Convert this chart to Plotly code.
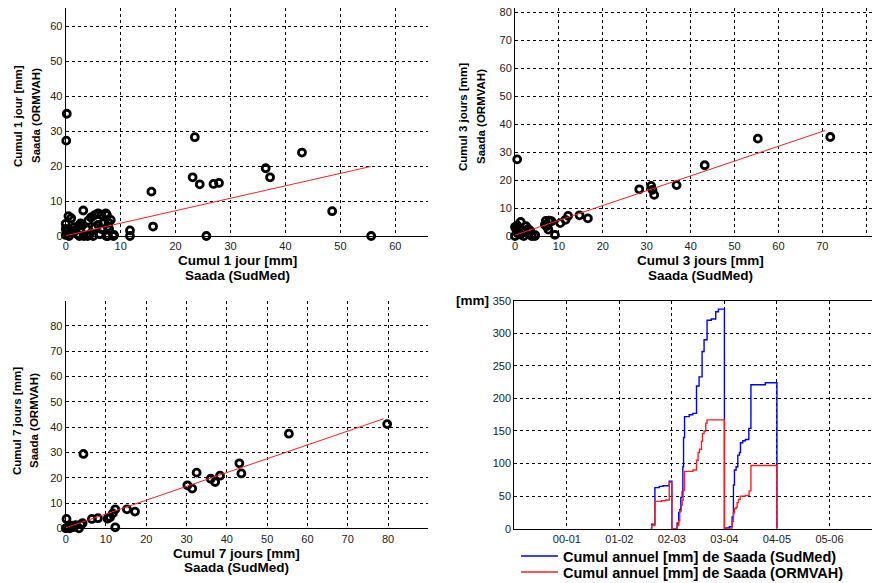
import plotly.graph_objects as go

# ---------------- data ----------------
# Panel 1 : cumul 1 jour  (x = SudMed, y = ORMVAH)
j1_sudmed = [0.2, 0.1, 23.5, 23.1, 24.4, 26.9, 27.9, 15.6, 15.9, 25.6, 36.4, 37.2, 43.0, 48.5, 55.6,
             11.7, 11.7, 8.7, 8.2, 7.7, 0.5, 1.0, 3.2, 2.7, 4.6, 5.9, 7.3, 6.8, 7.7, 0.0, 0.0, 0.0,
             0.6, 1.5, 2.1, 3.3, 3.8, 4.4, 5.0, 5.3, 6.2, 7.4, 7.9, 8.8, 4.0, 2.5, 1.0, 0.2, 1.6,
             3.0, 6.5, 2.3, 4.1, 5.3, 6.5, 7.5, 5.9, 7.8]
j1_ormvah = [35.0, 27.3, 28.3, 16.8, 14.8, 14.9, 15.2, 12.7, 2.7, 0.0, 19.4, 16.8, 23.9, 7.1, 0.0,
             1.6, 0.0, 0.0, 4.6, 0.0, 5.7, 5.1, 7.3, 3.6, 5.3, 6.5, 6.5, 3.6, 2.7, 3.5, 2.0, 0.3,
             0.0, 2.5, 0.5, 0.0, 2.0, 0.5, 0.0, 2.5, 0.5, 0.0, 2.0, 0.3, 0.0, 0.0, 1.0, 1.2, 1.5,
             3.0, 2.0, 2.9, 4.4, 6.0, 6.0, 6.0, 3.2, 3.8]
j1_fit_x = [0.0, 55.5]
j1_fit_y = [0.1, 19.9]

# Panel 2 : cumul 3 jours
j3_sudmed = [0.5, 71.8, 55.3, 43.2, 36.8, 31.0, 31.3, 31.7, 28.3, 16.6, 14.7, 12.1, 11.5, 10.3, 9.1,
             7.0, 7.8, 8.3, 7.2, 7.6, 0.0, 0.3, 0.6, 1.3, 2.5, 3.0, 3.5, 4.5, 3.8, 0.0, 1.2, 2.2,
             4.6, 6.8, 0.5, 2.0]
j3_ormvah = [27.4, 35.4, 34.8, 25.3, 18.2, 17.9, 16.5, 14.7, 16.7, 6.3, 7.4, 7.2, 5.8, 4.6, 0.4,
             5.4, 5.5, 5.3, 3.5, 2.3, 3.2, 2.3, 1.0, 5.0, 3.5, 2.5, 1.8, 0.0, 0.0, 0.0, 0.5, 1.5,
             0.3, 4.0, 3.8, 0.0]
j3_fit_x = [0.0, 70.6]
j3_fit_y = [0.3, 37.7]

# Panel 3 : cumul 7 jours
j7_sudmed = [79.8, 55.4, 4.4, 43.1, 43.6, 32.5, 38.3, 36.0, 37.1, 30.2, 31.4, 15.2, 17.2, 12.3, 11.7,
             10.4, 11.0, 8.0, 6.5, 12.3, 0.2, 0.0, 1.0, 2.0, 3.3, 3.8, 4.2, 1.5, 2.5, 0.5]
j7_ormvah = [41.2, 37.4, 29.4, 25.7, 21.7, 22.0, 20.8, 19.6, 18.3, 17.0, 15.7, 7.5, 6.6, 7.5, 5.9,
             3.8, 4.4, 4.0, 3.7, 0.4, 3.7, 0.0, 0.0, 0.5, 0.0, 1.5, 2.0, 1.0, 1.2, 0.3]
j7_fit_x = [0.0, 78.9]
j7_fit_y = [0.2, 43.3]

# Panel 4 : cumul annuel (decimal hydrological year, 2000 = "00-01")
sud_t = [2001.60, 2001.615, 2001.677, 2001.76, 2001.83, 2001.95, 2002.0, 2002.10, 2002.13, 2002.15,
         2002.17, 2002.196, 2002.209, 2002.222, 2002.241, 2002.33, 2002.40, 2002.469, 2002.518,
         2002.575, 2002.613, 2002.670, 2002.75, 2002.835, 2002.886, 2003.0, 2003.03, 2003.096,
         2003.147, 2003.172, 2003.191, 2003.223, 2003.255, 2003.287, 2003.306, 2003.350, 2003.40,
         2003.465, 2003.505, 2003.778, 2004.0]
sud_mm = [0, 7, 63, 65, 66, 73, 0, 9, 25, 29, 48, 57, 95, 140, 172, 175, 177, 219, 233, 272, 290,
          320, 322, 333, 337, 0, 1, 3, 18, 67, 90, 95, 113, 117, 132, 135, 137, 154, 221, 224, 0]
orm_t = [2001.60, 2001.615, 2001.677, 2001.80, 2001.88, 2001.95, 2002.0, 2002.10, 2002.13, 2002.15,
         2002.18, 2002.196, 2002.215, 2002.241, 2002.40, 2002.469, 2002.499, 2002.525, 2002.563,
         2002.582, 2002.613, 2002.645, 2002.670, 2003.0, 2003.147, 2003.172, 2003.191, 2003.223,
         2003.242, 2003.268, 2003.300, 2003.40, 2003.47, 2003.505, 2004.0]
orm_mm = [0, 5, 42, 43, 44, 71, 0, 5, 12, 27, 36, 44, 59, 88, 90, 105, 117, 122, 134, 146, 150, 162,
          167, 0, 11, 24, 31, 33, 40, 45, 50, 51, 58, 97, 0]

year_ticks = [2000, 2001, 2002, 2003, 2004, 2005]
year_labels = ["00-01", "01-02", "02-03", "03-04", "04-05", "05-06"]

# ---------------- figure ----------------
W, H = 872, 583
def px(x):
    return x / W
def py(y):
    return 1 - y / H

fig = go.Figure()

mk = dict(symbol="circle-open", size=7, color="black", line=dict(width=2.8, color="black"))
for i, (xs, ys, fx, fy) in enumerate([(j1_sudmed, j1_ormvah, j1_fit_x, j1_fit_y),
                                      (j3_sudmed, j3_ormvah, j3_fit_x, j3_fit_y),
                                      (j7_sudmed, j7_ormvah, j7_fit_x, j7_fit_y)]):
    ax = "" if i == 0 else str(i + 1)
    fig.add_trace(go.Scatter(x=xs, y=ys, mode="markers", marker=mk, showlegend=False,
                             xaxis="x" + ax, yaxis="y" + ax, cliponaxis=False))
    fig.add_trace(go.Scatter(x=fx, y=fy, mode="lines", line=dict(color="#ff2020", width=1),
                             showlegend=False, xaxis="x" + ax, yaxis="y" + ax))

fig.add_trace(go.Scatter(x=sud_t, y=sud_mm, mode="lines", line=dict(color="#0000ff", width=1.4, shape="hv"),
                         name="Cumul annuel [mm] de Saada (SudMed)", xaxis="x4", yaxis="y4",
                         legend="legend"))
fig.add_trace(go.Scatter(x=orm_t, y=orm_mm, mode="lines", line=dict(color="#ff2020", width=1.4, shape="hv"),
                         name="Cumul annuel [mm] de Saada (ORMVAH)", xaxis="x4", yaxis="y4",
                         legend="legend2"))

tickfont = dict(family="Liberation Sans, Arial", size=11, color="#222")
common = dict(showline=True, linecolor="black", linewidth=1, showgrid=True, gridcolor="black",
              gridwidth=1, griddash="3px,3px", zeroline=False, ticks="", tickfont=tickfont,
              fixedrange=True, automargin=False)

legfont = dict(family="Liberation Sans, Arial", size=14.5, color="black", weight="bold")

fig.update_layout(
    width=W, height=H, margin=dict(l=0, r=0, t=0, b=0, autoexpand=False),
    paper_bgcolor="white", plot_bgcolor="white",
    xaxis=dict(domain=[px(65.7), px(428.3)], range=[0, 66], tickvals=[0, 10, 20, 30, 40, 50, 60],
               anchor="y", **common),
    yaxis=dict(domain=[py(236), py(8.3)], range=[0, 65.2], tickvals=[0, 10, 20, 30, 40, 50, 60],
               anchor="x", **common),
    xaxis2=dict(domain=[px(515), 1.0], range=[0, 81.3], tickvals=[0, 10, 20, 30, 40, 50, 60, 70, 80],
                anchor="y2", **common),
    yaxis2=dict(domain=[py(236), py(8.3)], range=[0, 81.4], tickvals=[0, 10, 20, 30, 40, 50, 60, 70, 80],
                anchor="x2", **common),
    xaxis3=dict(domain=[px(65.7), px(428.3)], range=[0, 90], tickvals=[0, 10, 20, 30, 40, 50, 60, 70, 80],
                anchor="y3", **common),
    yaxis3=dict(domain=[py(528.3), py(300.7)], range=[0, 90], tickvals=[0, 10, 20, 30, 40, 50, 60, 70, 80],
                anchor="x3", **common),
    xaxis4=dict(domain=[px(514.3), 1.0], range=[1999, 2005.81], tickvals=year_ticks, ticktext=year_labels,
                anchor="y4", mirror=True, **common),
    yaxis4=dict(domain=[py(528.7), py(300.7)], range=[0, 350], tickvals=[0, 50, 100, 150, 200, 250, 300, 350],
                anchor="x4", **common),
    legend=dict(x=px(516), y=py(540), xanchor="left", yanchor="top", bgcolor="rgba(0,0,0,0)",
                font=legfont, itemwidth=37),
    legend2=dict(x=px(516), y=py(556), xanchor="left", yanchor="top", bgcolor="rgba(0,0,0,0)",
                 font=legfont, itemwidth=37),
    showlegend=True,
)

tfh = dict(family="Liberation Sans, Arial", size=13.5, color="black", weight="bold")
tfv = dict(family="Liberation Sans, Arial", size=11.5, color="black", weight="bold")
labels = [
    ("Cumul 1 jour [mm]", 238, 260, 0), ("Saada (SudMed)", 238, 275, 0),
    ("Cumul 1 jour [mm]", 18, 116, -90), ("Saada (ORMVAH)", 36, 116, -90),
    ("Cumul 3 jours [mm]", 700, 260, 0), ("Saada (SudMed)", 700, 275, 0),
    ("Cumul 3 jours [mm]", 463, 117, -90), ("Saada (ORMVAH)", 481, 117, -90),
    ("Cumul 7 jours [mm]", 236, 553, 0), ("Saada (SudMed)", 236, 567.5, 0),
    ("Cumul 7 jours [mm]", 17, 421, -90), ("Saada (ORMVAH)", 34, 421, -90),
    ("[mm]", 472, 300, 0),
]
for text, x, y, ang in labels:
    fig.add_annotation(text=text, x=px(x), y=py(y), xref="paper", yref="paper", showarrow=False,
                       textangle=ang, font=(tfv if ang else tfh), xanchor="center", yanchor="middle")

fig.write_html("out.html", config={"displayModeBar": False},
               post_script="document.body.style.margin='0';document.body.style.overflow='hidden';")
